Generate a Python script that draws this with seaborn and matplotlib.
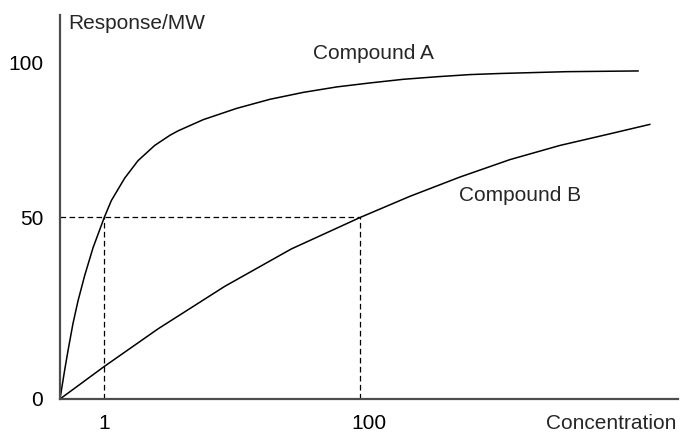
import matplotlib
matplotlib.use('Agg')
import matplotlib.pyplot as plt
import pandas as pd
import seaborn as sns

# schematic axes: x is position along the concentration axis, y is response
conc_a = [0, 4.7, 8, 13, 18, 24.7, 33, 44.3, 51.3, 64.7, 78, 94.7, 110, 118,
          143.3, 176.7, 210, 243.3, 276.7, 310, 343.3, 376.7, 410, 440,
          506.7, 578.3]
resp_a = [0, 8.0, 13.3, 20.8, 27.0, 34.0, 41.6, 50, 54.6, 60.8, 65.6, 69.8,
          72.6, 73.8, 76.9, 80.0, 82.5, 84.4, 85.9, 87.0, 88.0, 88.7, 89.3,
          89.6, 90.1, 90.3]

conc_b = [0, 44, 98, 164.7, 231.3, 300.4, 350, 400, 450, 500, 550, 590]
resp_b = [0, 8.9, 19.3, 31.0, 41.3, 50, 55.8, 61.1, 65.9, 69.8, 73.0, 75.6]

# half-maximal response guides
half_resp = 50
half_conc = [44.3, 300.4]

x_tick_pos = [44.3, 309]
x_tick_labels = ['1', '100']
y_tick_pos = [0, 50, 92.7]
y_tick_labels = ['0', '50', '100']

df_a = pd.DataFrame({'conc': conc_a, 'resp': resp_a})
df_b = pd.DataFrame({'conc': conc_b, 'resp': resp_b})

sns.set_style('white')
plt.rcParams['font.family'] = ['Liberation Sans', 'DejaVu Sans']

fig = plt.figure(figsize=(6.8, 4.34), dpi=100)
ax = fig.add_axes([60 / 680, 35 / 434, 618 / 680, 384 / 434])

sns.lineplot(data=df_a, x='conc', y='resp', ax=ax, color='black',
             linewidth=1.1, sort=False, estimator=None)
sns.lineplot(data=df_b, x='conc', y='resp', ax=ax, color='black',
             linewidth=1.1, sort=False, estimator=None)

dash = (0, (4.5, 2.7))
ax.hlines(half_resp, 0, max(half_conc), colors='black', linewidth=0.9,
          linestyles=[dash])
ax.vlines(half_conc, 0, half_resp, colors='black', linewidth=0.9,
          linestyles=[dash])

ax.set_xlim(0, 618)
ax.set_ylim(0, 105.7)
ax.set_xticks(x_tick_pos)
ax.set_xticklabels(x_tick_labels)
ax.set_yticks(y_tick_pos)
ax.set_yticklabels(y_tick_labels)
ax.tick_params(axis='both', length=0, labelsize=15, colors='black')
ax.tick_params(axis='y', pad=12)
ax.tick_params(axis='x', pad=11)
ax.set_xlabel('')
ax.set_ylabel('')

for side in ['top', 'right']:
    ax.spines[side].set_visible(False)
for side in ['left', 'bottom']:
    ax.spines[side].set_color('#4d4d4d')
    ax.spines[side].set_linewidth(1.6)

ax.text(0.013, 0.979, 'Response/MW', transform=ax.transAxes, fontsize=15,
        ha='left', va='center')
ax.text(0.997, -0.064, 'Concentration', transform=ax.transAxes, fontsize=15,
        ha='right', va='center', clip_on=False)
ax.text(313, 95.2, 'Compound A', fontsize=15, ha='center', va='center')
ax.text(460, 56.0, 'Compound B', fontsize=15, ha='center', va='center')

fig.savefig('out.png', dpi=100)
